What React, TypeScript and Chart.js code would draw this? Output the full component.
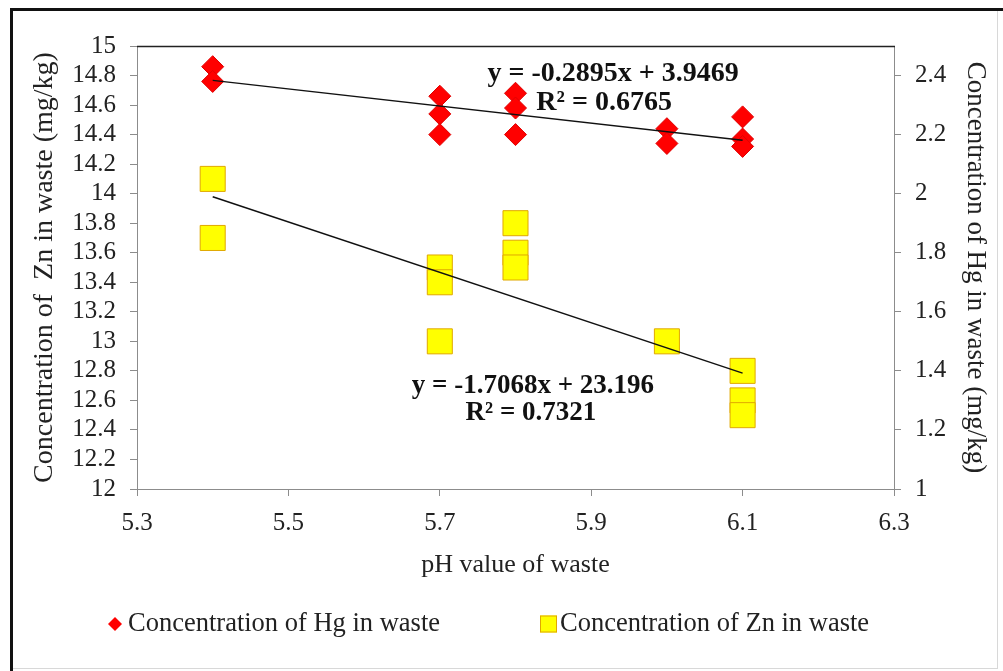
import React, { useEffect, useRef } from "react";
import { Chart, registerables } from "chart.js";

Chart.register(...registerables);

// ---- data ----
const hgPH = [5.4, 5.4, 5.7, 5.7, 5.7, 5.8, 5.8, 5.8, 6.0, 6.0, 6.1, 6.1, 6.1];
const hgValues = [2.43, 2.38, 2.33, 2.27, 2.2, 2.34, 2.29, 2.2, 2.22, 2.17, 2.26, 2.185, 2.16];
const znPH = [5.4, 5.4, 5.7, 5.7, 5.7, 5.8, 5.8, 5.8, 6.0, 6.1, 6.1, 6.1];
const znValues = [14.1, 13.7, 13.5, 13.4, 13.0, 13.8, 13.6, 13.5, 13.0, 12.8, 12.6, 12.5];
const trendPH = [5.4, 6.1];
const hgTrend = [2.3836, 2.181];
const znTrend = [13.9793, 12.7845];
const xTicks = [5.3, 5.5, 5.7, 5.9, 6.1, 6.3];
const znTicks = [12, 12.2, 12.4, 12.6, 12.8, 13, 13.2, 13.4, 13.6, 13.8, 14, 14.2, 14.4, 14.6, 14.8, 15];
const hgTicks = [1, 1.2, 1.4, 1.6, 1.8, 2, 2.2, 2.4];
const hgLabel = "Concentration of Hg in waste";
const znLabel = "Concentration of Zn in waste";
const hgEquation = ["y = -0.2895x + 3.9469", "R\u00B2 = 0.6765"];
const znEquation = ["y = -1.7068x + 23.196", "R\u00B2 = 0.7321"];

const FONT = "'Liberation Serif', 'Times New Roman', serif";
const TEXT = "#222222";
const AXIS = "#8c8c8c";
const RED = "#ff0000";
const YELLOW = "#ffff00";
const YELLOW_EDGE = "#e0a800";

const fmt = (v: number) => String(Number(v.toFixed(1)));

const decorPlugin = {
  id: "decor",
  beforeDraw(chart: any) {
    const { ctx, width, height } = chart;
    ctx.save();
    ctx.fillStyle = "#ffffff";
    ctx.fillRect(0, 0, width, height);
    // outer frame
    ctx.strokeStyle = "#d8d8d8";
    ctx.lineWidth = 1;
    ctx.strokeRect(12.5, 9.5, width - 18, height - 12);
    ctx.strokeStyle = "#111111";
    ctx.lineWidth = 3;
    ctx.beginPath();
    ctx.moveTo(11.5, height);
    ctx.lineTo(11.5, 9.5);
    ctx.lineTo(width, 9.5);
    ctx.stroke();
    ctx.restore();
  },
  afterDatasetsDraw(chart: any) {
    const { ctx, chartArea } = chart;
    const { left, right, top, bottom } = chartArea;
    ctx.save();
    ctx.strokeStyle = AXIS;
    ctx.lineWidth = 1;
    ctx.beginPath();
    ctx.moveTo(right + 0.5, top);
    ctx.lineTo(right + 0.5, bottom);
    ctx.stroke();
    ctx.strokeStyle = "#222222";
    ctx.lineWidth = 1.5;
    ctx.beginPath();
    ctx.moveTo(left, top + 0.5);
    ctx.lineTo(right + 1, top + 0.5);
    ctx.stroke();

    // regression equations
    const xs = chart.scales.x;
    const yl = chart.scales.yZn;
    const yr = chart.scales.yHg;
    ctx.fillStyle = "#111111";
    ctx.textAlign = "center";
    ctx.textBaseline = "middle";
    ctx.font = `bold 28px ${FONT}`;
    const hx = xs.getPixelForValue(5.929);
    const hy = yr.getPixelForValue(2.405);
    ctx.fillText(hgEquation[0], hx, hy);
    ctx.fillText(hgEquation[1], hx - 9, hy + 29);
    ctx.font = `bold 27px ${FONT}`;
    const zx = xs.getPixelForValue(5.823);
    const zy = yl.getPixelForValue(12.7);
    ctx.fillText(znEquation[0], zx, zy);
    ctx.fillText(znEquation[1], zx - 2, zy + 27);

    // legend
    const ly = 624;
    ctx.font = `26.5px ${FONT}`;
    ctx.textAlign = "left";
    const lx1 = 115;
    ctx.fillStyle = RED;
    ctx.beginPath();
    ctx.moveTo(lx1 - 7, ly);
    ctx.lineTo(lx1, ly - 7);
    ctx.lineTo(lx1 + 7, ly);
    ctx.lineTo(lx1, ly + 7);
    ctx.closePath();
    ctx.fill();
    ctx.fillStyle = TEXT;
    ctx.fillText(hgLabel, lx1 + 13, ly);
    const lx2 = 540;
    ctx.fillStyle = YELLOW;
    ctx.fillRect(lx2, ly - 8.5, 17, 17);
    ctx.strokeStyle = YELLOW_EDGE;
    ctx.lineWidth = 1;
    ctx.strokeRect(lx2 + 0.5, ly - 8, 16, 16);
    ctx.fillStyle = TEXT;
    ctx.fillText(znLabel, lx2 + 20, ly);
    ctx.restore();
  },
};

export default function App() {
  const ref = useRef<HTMLCanvasElement | null>(null);
  useEffect(() => {
    if (!ref.current) return;
    const chart = new Chart(ref.current, {
      type: "scatter",
      data: {
        datasets: [
          {
            label: hgLabel,
            data: hgPH.map((x, i) => ({ x, y: hgValues[i] })),
            yAxisID: "yHg",
            pointStyle: "rectRot",
            pointRadius: 11,
            backgroundColor: RED,
            borderColor: "#e00000",
            borderWidth: 1,
            order: 2,
          },
          {
            label: znLabel,
            data: znPH.map((x, i) => ({ x, y: znValues[i] })),
            yAxisID: "yZn",
            pointStyle: "rect",
            pointRadius: 17.7,
            backgroundColor: YELLOW,
            borderColor: YELLOW_EDGE,
            borderWidth: 1,
            order: 3,
          },
          {
            type: "line",
            label: "Hg trend",
            data: trendPH.map((x, i) => ({ x, y: hgTrend[i] })),
            yAxisID: "yHg",
            borderColor: "#111111",
            borderWidth: 1.5,
            pointRadius: 0,
            fill: false,
            order: 1,
          },
          {
            type: "line",
            label: "Zn trend",
            data: trendPH.map((x, i) => ({ x, y: znTrend[i] })),
            yAxisID: "yZn",
            borderColor: "#111111",
            borderWidth: 1.5,
            pointRadius: 0,
            fill: false,
            order: 1,
          },
        ],
      },
      options: {
        animation: false,
        responsive: false,
        devicePixelRatio: 1,
        layout: { padding: { top: 46, left: 0, right: 0, bottom: 82 } },
        plugins: {
          legend: { display: false },
          tooltip: { enabled: false },
        },
        scales: {
          x: {
            type: "linear",
            min: 5.3,
            max: 6.3,
            afterBuildTicks: (s: any) => {
              s.ticks = xTicks.map((v) => ({ value: v }));
            },
            afterFit: (s: any) => {
              s.height = 100;
            },
            grid: { drawOnChartArea: false, drawTicks: true, tickLength: 7, color: AXIS },
            border: { color: AXIS },
            ticks: {
              callback: (v: any) => fmt(Number(v)),
              font: { family: FONT, size: 25 },
              color: TEXT,
              padding: 12,
              maxRotation: 0,
            },
            title: {
              display: true,
              text: "pH value of waste",
              font: { family: FONT, size: 26 },
              color: TEXT,
              padding: { top: 0, bottom: 8 },
            },
          },
          yZn: {
            type: "linear",
            position: "left",
            min: 12,
            max: 15,
            afterBuildTicks: (s: any) => {
              s.ticks = znTicks.map((v) => ({ value: v }));
            },
            afterFit: (s: any) => {
              s.width = 137;
            },
            grid: { drawOnChartArea: false, drawTicks: true, tickLength: 7, color: AXIS },
            border: { color: AXIS },
            ticks: {
              callback: (v: any) => fmt(Number(v)),
              font: { family: FONT, size: 25 },
              color: TEXT,
              padding: 14,
              autoSkip: false,
            },
            title: {
              display: true,
              text: "Concentration of  Zn in waste (mg/kg)",
              font: { family: FONT, size: 28 },
              color: TEXT,
              padding: { top: 28, bottom: 0 },
            },
          },
          yHg: {
            type: "linear",
            position: "right",
            min: 1,
            max: 2.5,
            afterBuildTicks: (s: any) => {
              s.ticks = hgTicks.map((v) => ({ value: v }));
            },
            afterFit: (s: any) => {
              s.width = 109;
            },
            grid: { drawOnChartArea: false, drawTicks: true, tickLength: 7, color: AXIS },
            border: { color: AXIS },
            ticks: {
              callback: (v: any) => fmt(Number(v)),
              font: { family: FONT, size: 25 },
              color: TEXT,
              padding: 14,
              autoSkip: false,
            },
            title: {
              display: true,
              text: "Concentration of Hg in waste (mg/kg)",
              font: { family: FONT, size: 27 },
              color: TEXT,
              padding: { top: 12, bottom: 0 },
            },
          },
        },
      },
      plugins: [decorPlugin],
    } as any);
    return () => chart.destroy();
  }, []);
  return (
    <div style={{ position: "fixed", left: 0, top: 0, width: 1003, height: 671, background: "#fff" }}>
      <canvas ref={ref} width={1003} height={671} style={{ display: "block", width: 1003, height: 671 }} />
    </div>
  );
}
